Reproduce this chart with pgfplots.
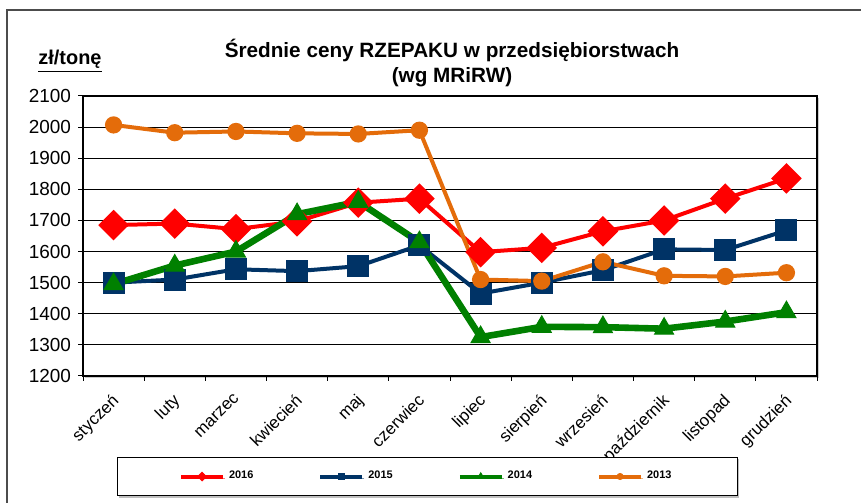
\documentclass[border=0pt]{standalone}
\usepackage{fontspec}
\setmainfont{Liberation Sans}
\usepackage{pgfplots}
\pgfplotsset{compat=1.18}
\usetikzlibrary{shadows}

\definecolor{c2016}{RGB}{255,0,0}
\definecolor{c2015}{RGB}{0,51,102}
\definecolor{c2014}{RGB}{0,128,0}
\definecolor{c2013}{RGB}{228,108,10}

\begin{document}
\begin{tikzpicture}[x=0.5bp,y=0.5bp]
\useasboundingbox (0,0) rectangle (861,503);
% outer frame (top and left edges visible)
\draw[gray!60!black, line width=0.7bp] (7,0) -- (7,493) -- (861,493);

\node[font=\bfseries\fontsize{10.4}{13}\selectfont, align=center] at (452,440)
  {Średnie ceny RZEPAKU w przedsiębiorstwach\\(wg MRiRW)};
\node[font=\bfseries\fontsize{10}{12}\selectfont] at (70,442) {\underline{zł/tonę}};

\begin{axis}[
    at={(41.5bp,63.5bp)}, anchor=south west,
    width=367bp, height=140bp, scale only axis,
    axis background/.style={fill=white, drop shadow={shadow xshift=1bp, shadow yshift=-1bp, fill=gray!80}},
    xmin=-0.5, xmax=11.5,
    ymin=1200, ymax=2100,
    xtick={0,...,11},
    xticklabels={styczeń,luty,marzec,kwiecień,maj,czerwiec,lipiec,sierpień,wrzesień,październik,listopad,grudzień},
    major x tick style={draw=none},
    minor xtick={-0.5,0.5,...,11.5},
    ytick={1200,1300,...,2100},
    tick align=outside,
    tick pos=left,
    major tick length=2.5bp, minor tick length=2.5bp,
    ymajorgrids,
    grid style={black, line width=0.5bp},
    axis line style={black, line width=0.6bp},
    tick style={black, line width=0.5bp},
    /pgf/number format/assume math mode=true,
    /pgf/number format/1000 sep={},
    yticklabel style={font=\fontsize{9.5}{11}\selectfont},
    xticklabel style={font=\fontsize{8.5}{10}\selectfont, rotate=45, anchor=north east,
        inner sep=1bp, xshift=-4bp, yshift=-2bp},
    legend columns=4,
    legend style={at={(0.469,-0.359)}, anchor=center,
        draw=black, line width=0.5bp,
        drop shadow={shadow xshift=1bp, shadow yshift=-1bp, fill=gray},
        fill=white,
        font=\bfseries\fontsize{5.5}{6}\selectfont,
        inner xsep=31bp, inner ysep=5bp,
        /tikz/every even column/.append style={column sep=30.5bp}},
    legend image code/.code={
        \draw[#1, line width=2bp] (0bp,0bp) -- (21bp,0bp);
        \draw[#1, line width=0.3bp] plot coordinates {(10.5bp,0bp)};
    },
]
\addplot[c2016, line width=2bp, mark=square*, mark size=4.4bp, mark options={rotate=45}, forget plot]
  coordinates {(0,1685) (1,1690) (2,1672) (3,1697) (4,1757) (5,1770) (6,1598) (7,1612) (8,1665) (9,1700) (10,1770) (11,1835)};
\addplot[c2015, line width=2bp, mark=square*, mark size=4.5bp, forget plot]
  coordinates {(0,1500) (1,1510) (2,1543) (3,1537) (4,1553) (5,1620) (6,1465) (7,1500) (8,1540) (9,1607) (10,1605) (11,1668)};
\addplot[c2014, line width=3.3bp, mark=triangle*, mark size=5.5bp, mark options={line width=0.5bp}, forget plot]
  coordinates {(0,1495) (1,1555) (2,1600) (3,1720) (4,1760) (5,1630) (6,1325) (7,1358) (8,1357) (9,1352) (10,1375) (11,1405)};
\addplot[c2013, line width=2bp, mark=*, mark size=3.3bp, forget plot]
  coordinates {(0,2007) (1,1982) (2,1986) (3,1980) (4,1978) (5,1990) (6,1510) (7,1505) (8,1567) (9,1522) (10,1520) (11,1532)};
\addlegendimage{c2016, mark=square*, mark size=1.6bp, mark options={rotate=45}}
\addlegendimage{c2015, mark=square*, mark size=1.6bp}
\addlegendimage{c2014, mark=triangle*, mark size=2bp}
\addlegendimage{c2013, mark=*, mark size=1.6bp}
\legend{2016,2015,2014,2013}
\end{axis}
\end{tikzpicture}
\end{document}
